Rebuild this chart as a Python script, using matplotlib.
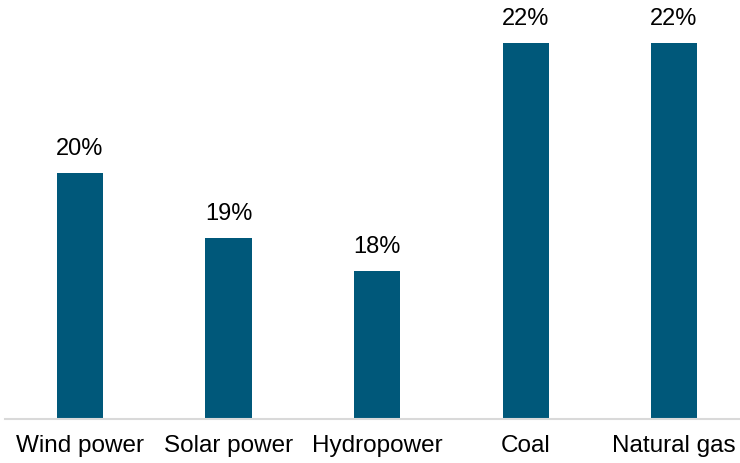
import matplotlib.pyplot as plt

categories = ["Wind power", "Solar power", "Hydropower", "Coal", "Natural gas"]
values = [19.7, 18.7, 18.2, 21.7, 21.7]

plt.rcParams['font.family'] = ['Liberation Sans', 'DejaVu Sans']

fig = plt.figure(figsize=(7.4, 4.64), dpi=100)
ax = fig.add_axes([5 / 740, 44 / 464, 735 / 740, 420 / 464])

x = range(len(categories))
bars = ax.bar(x, values, width=0.31, color='#00587a', zorder=2)

for xi, v in zip(x, values):
    ax.annotate(f"{v:.0f}%", (xi, v), xytext=(0, 10), textcoords='offset points',
                ha='center', va='bottom', fontsize=17, color='#000000')

ax.set_xlim(-0.505, 4.444)
ax.set_ylim(15.92, 22.38)
ax.set_xticks(list(x))
ax.set_xticklabels(categories, fontsize=17.5)
ax.tick_params(axis='x', length=0, pad=11)
ax.set_yticks([])
for s in ['top', 'right', 'left']:
    ax.spines[s].set_visible(False)
ax.spines['bottom'].set_color('#d9d9d9')
ax.spines['bottom'].set_linewidth(1.5)

fig.savefig('out.png', dpi=100)
